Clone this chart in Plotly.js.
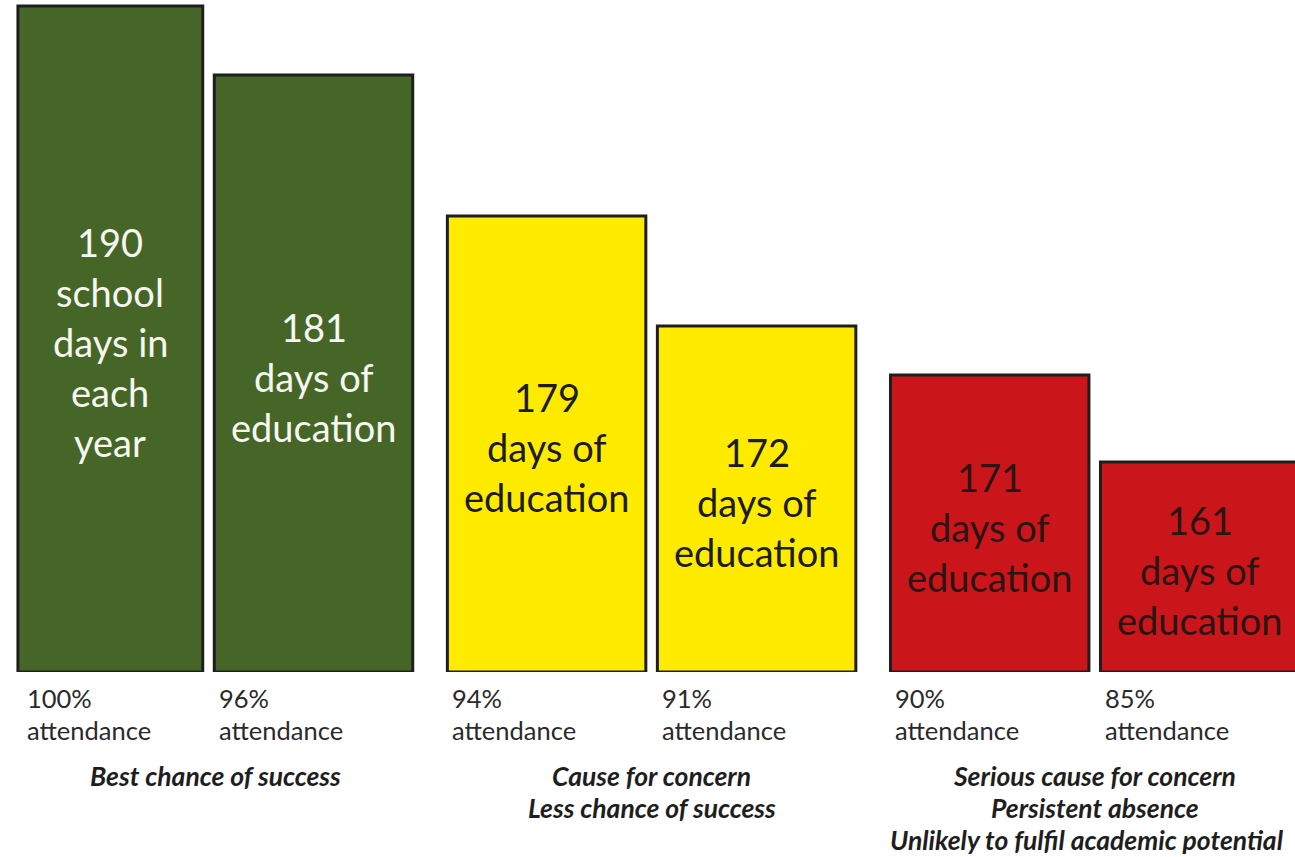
<!DOCTYPE html>
<html>
<head>
<meta charset="utf-8">
<script src="https://cdn.plot.ly/plotly-3.0.1.min.js"></script>
<style>
  html, body { margin: 0; padding: 0; background: #ffffff; }
  #chart { width: 1295px; height: 857px; }
</style>
</head>
<body>
<div id="chart"></div>
<script>
// ---- data ----
const attendance = ['100%', '96%', '94%', '91%', '90%', '85%'];
const days = ['190', '181', '179', '172', '171', '161'];
const barTextLines = [
  ['190', 'school', 'days in', 'each', 'year'],
  ['181', 'days of', 'education'],
  ['179', 'days of', 'education'],
  ['172', 'days of', 'education'],
  ['171', 'days of', 'education'],
  ['161', 'days of', 'education']
];
// visual bar heights (arbitrary units, as drawn)
const barHeights = [666, 597, 456, 346, 297, 210];
const groupOf = [0, 0, 1, 1, 2, 2];
const groupColors = ['#466627', '#FFEB00', '#CA161A'];
const groupTextColors = ['#f7f7f2', '#1c1c1c', '#2a1414'];
const groupCaptions = [
  ['Best chance of success'],
  ['Cause for concern', 'Less chance of success'],
  ['Serious cause for concern', 'Persistent absence', 'Unlikely to fulfil academic potential']
];

// ---- layout constants ----
const GROUP_GAP = 0.11;
const FULL_W = 0.945;
const FONT = 'Lato, Carlito, Calibri, "Open Sans", sans-serif';

const xPos = attendance.map((_, i) => i + groupOf[i] * GROUP_GAP);
const widths = attendance.map((_, i) => i === 0 ? 0.88 : FULL_W);
const offsets = widths.map(w => FULL_W / 2 - w);
const colors = groupOf.map(g => groupColors[g]);

const trace = {
  type: 'bar',
  x: xPos,
  y: barHeights,
  width: widths,
  offset: offsets,
  marker: { color: colors, line: { color: '#1e1e1e', width: 3 } },
  hoverinfo: 'skip',
  showlegend: false
};

const annotations = [];
// text inside the bars
barTextLines.forEach((lines, i) => {
  const cx = xPos[i] + offsets[i] + widths[i] / 2;
  const n = lines.length;
  lines.forEach((t, j) => {
    annotations.push({
      x: cx, y: barHeights[i] / 2, xref: 'x', yref: 'y',
      text: t, showarrow: false, xanchor: 'center', yanchor: 'middle',
      yshift: ((n - 1) / 2 - j) * 50 - 3,
      font: { family: FONT, size: 38, color: groupTextColors[groupOf[i]] }
    });
  });
});
// attendance labels below the bars
attendance.forEach((a, i) => {
  const left = xPos[i] + offsets[i];
  [a, 'attendance'].forEach((t, j) => {
    annotations.push({
      x: left, y: 0, xref: 'x', yref: 'y',
      text: t, showarrow: false, xanchor: 'left', yanchor: 'middle',
      xshift: i === 0 ? 7 : 3, yshift: -26 - j * 32,
      font: { family: FONT, size: 25.5, color: '#2a2a2a' }
    });
  });
});
// group captions
groupCaptions.forEach((lines, g) => {
  const idx = groupOf.map((gg, i) => gg === g ? i : -1).filter(i => i >= 0);
  const l = xPos[idx[0]] + offsets[idx[0]];
  const r = xPos[idx[idx.length - 1]] + offsets[idx[idx.length - 1]] + widths[idx[idx.length - 1]];
  lines.forEach((t, j) => {
    const isLong = t.length > 30;
    annotations.push({
      x: (l + r) / 2, y: 0, xref: 'x', yref: 'y',
      text: '<b><i>' + t + '</i></b>', showarrow: false, xanchor: 'center', yanchor: 'middle',
      borderpad: 0,
      xshift: isLong ? -8 : 0,
      yshift: -104 - j * 32,
      font: { family: FONT, size: 26.5, color: '#1e1e1e' }
    });
  });
});

const layout = {
  width: 1295, height: 857,
  margin: { l: 0, r: 0, t: 0, b: 185, pad: 0 },
  paper_bgcolor: '#ffffff', plot_bgcolor: '#ffffff',
  xaxis: { range: [-0.4929, 5.6738], visible: false, fixedrange: true },
  yaxis: { range: [0, 672], visible: false, fixedrange: true },
  annotations: annotations,
  bargap: 0
};

Plotly.newPlot('chart', [trace], layout, { staticPlot: true, displayModeBar: false });
</script>
</body>
</html>
